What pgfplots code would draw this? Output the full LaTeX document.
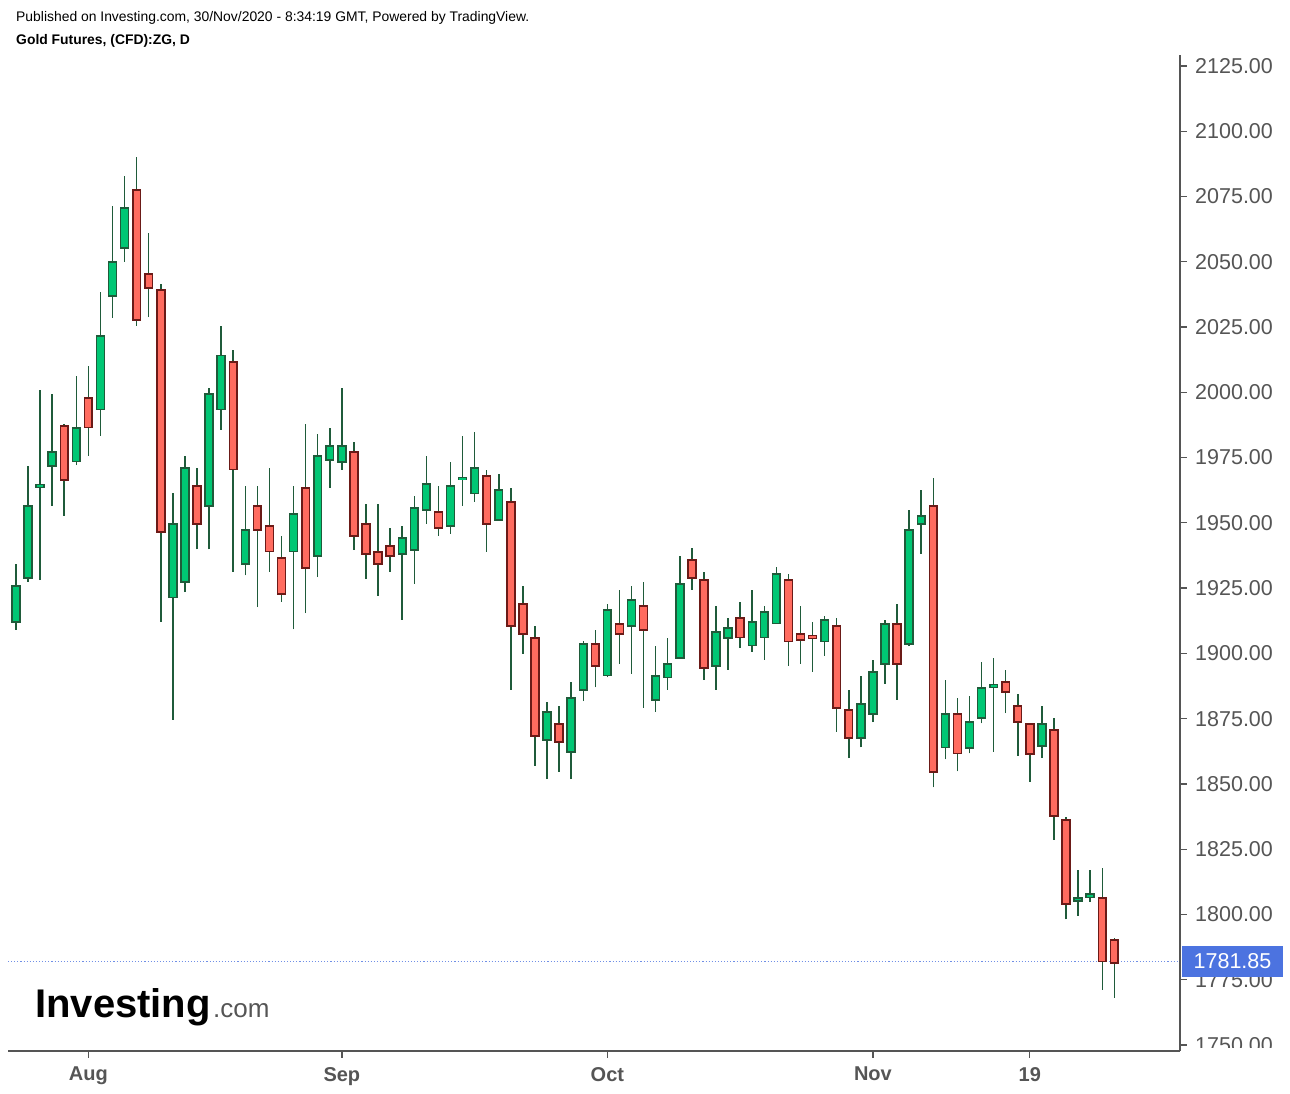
\documentclass[border=0pt]{standalone}
\usepackage{pgfplots}
\pgfplotsset{compat=1.18}
\usepackage{pgfplotstable}
\usepackage{fontspec}
\setmainfont{Liberation Sans}

\definecolor{upfill}{HTML}{00C774}
\definecolor{dnfill}{HTML}{FF6B5F}
\definecolor{upedge}{HTML}{1F5B3A}
\definecolor{dnedge}{HTML}{6B1A17}
\definecolor{axisgray}{HTML}{555555}
\definecolor{lastblue}{HTML}{4C73E0}

% daily candles, x = trading day index (0 = 24 Jul 2020)
\pgfplotstableread{
x  o      h      l      c
0  1912.4 1934.1 1909.0 1925.6
1  1929.2 1971.8 1927.5 1956.2
2  1964.0 2000.9 1928.1 1964.4
3  1972.2 1999.4 1956.6 1976.9
5  1973.8 2006.1 1972.1 1986.1
7  1993.7 2038.3 1983.4 2021.2
8  2037.3 2071.3 2028.6 2049.5
9  2055.7 2082.8 2050.0 2070.3
13 1921.7 1961.6 1874.5 1949.3
14 1927.6 1975.5 1923.5 1970.8
16 1956.8 2001.7 1939.8 1999.1
17 1993.7 2025.4 1985.7 2013.8
19 1934.7 1964.1 1929.9 1947.0
23 1939.3 1964.1 1909.2 1953.1
25 1937.6 1984.0 1929.2 1975.3
26 1974.3 1986.3 1963.5 1979.2
27 1973.7 2001.7 1970.3 1979.2
32 1938.3 1948.8 1912.8 1943.9
33 1939.9 1960.3 1926.7 1955.4
34 1955.2 1975.6 1949.7 1964.6
36 1949.1 1973.3 1945.9 1963.9
37 1966.9 1983.3 1956.6 1967.0
38 1961.6 1984.8 1958.1 1970.8
40 1951.4 1968.7 1951.4 1962.3
44 1867.1 1881.4 1851.8 1877.3
46 1862.5 1889.0 1851.8 1882.7
47 1886.3 1904.9 1881.7 1903.3
49 1891.8 1918.9 1890.8 1916.4
51 1910.8 1925.8 1892.2 1920.2
53 1882.4 1902.8 1877.7 1891.1
54 1891.1 1905.9 1886.1 1895.7
55 1898.5 1937.3 1898.5 1926.3
58 1895.4 1918.2 1886.1 1907.9
59 1906.2 1913.6 1893.8 1909.5
61 1903.3 1924.3 1900.7 1911.8
62 1906.4 1918.2 1897.6 1915.6
63 1911.8 1933.0 1911.8 1930.1
67 1904.9 1914.3 1899.1 1912.5
70 1867.9 1891.3 1864.0 1880.4
71 1877.1 1897.5 1873.7 1892.6
72 1896.2 1912.8 1888.3 1911.0
74 1903.9 1954.9 1902.8 1947.0
75 1949.8 1962.6 1938.1 1952.4
77 1864.3 1889.8 1859.4 1876.5
79 1864.0 1883.7 1861.7 1873.5
80 1875.5 1896.7 1873.2 1886.5
81 1887.5 1898.2 1862.4 1887.8
85 1864.8 1879.9 1860.1 1872.7
88 1805.5 1817.0 1799.5 1806.0
89 1807.0 1817.0 1804.9 1807.5
}\upbars

\pgfplotstableread{
x  o      h      l      c
4  1986.8 1987.8 1952.7 1966.7
6  1997.6 2010.0 1975.7 1986.8
10 2077.3 2090.1 2025.5 2028.0
11 2045.1 2061.2 2028.8 2040.4
12 2038.9 2041.4 1912.1 1946.7
15 1963.8 1970.9 1939.8 1950.0
18 2011.3 2016.2 1931.3 1970.7
20 1956.2 1964.1 1917.7 1947.5
21 1948.5 1971.0 1931.3 1939.3
22 1936.3 1945.0 1919.8 1923.0
24 1963.1 1987.9 1915.4 1933.0
28 1976.9 1980.9 1939.6 1945.4
29 1949.3 1957.2 1928.4 1938.5
30 1938.6 1957.2 1922.1 1934.5
31 1940.9 1948.0 1931.3 1937.6
35 1953.9 1964.1 1945.1 1948.3
39 1967.7 1970.3 1939.0 1949.8
41 1957.7 1963.4 1886.0 1910.8
42 1918.7 1925.8 1899.9 1907.7
43 1905.6 1910.5 1857.0 1868.6
45 1872.7 1879.9 1854.7 1866.3
48 1903.3 1909.0 1887.0 1895.4
50 1911.0 1924.3 1896.1 1907.7
52 1917.9 1927.4 1879.2 1909.2
56 1935.5 1940.4 1924.4 1929.2
57 1927.9 1931.2 1889.9 1894.7
60 1913.3 1919.7 1902.2 1906.4
64 1927.9 1930.4 1895.3 1904.9
65 1907.2 1918.2 1896.1 1905.4
66 1906.5 1912.0 1893.0 1906.2
68 1910.2 1913.6 1869.9 1879.4
69 1878.1 1886.0 1859.9 1867.9
73 1911.0 1918.9 1882.2 1896.2
76 1956.2 1967.2 1848.7 1854.8
78 1876.5 1882.9 1854.8 1862.0
82 1888.8 1893.6 1877.1 1885.5
83 1879.6 1884.5 1860.8 1874.0
84 1872.7 1873.0 1850.9 1861.7
86 1870.4 1875.1 1828.6 1838.0
87 1835.9 1837.5 1798.1 1804.3
90 1806.0 1817.8 1771.2 1782.3
91 1790.0 1790.9 1768.1 1781.85
}\dnbars

\pgfplotsset{
  nomark/.style={only marks, mark=*, mark size=0pt,
    mark options={draw opacity=0, fill opacity=0}, forget plot},
  wick/.style={nomark,
    error bars/.cd, y dir=plus, y explicit, error mark=none,
    error bar style={upedge, line width=1.5pt}},
  body/.style 2 args={nomark,
    error bars/.cd, y dir=both, y explicit, error mark=none,
    error bar style={#1, line width=#2}},
}

\begin{document}
\begin{tikzpicture}
\path[use as bounding box] (0,0) rectangle (1290pt,1094pt);

\node[anchor=base west, inner sep=0pt, font=\fontsize{13.9}{16}\selectfont] at (16pt,1072.5pt)
  {Published on Investing.com, 30/Nov/2020 - 8:34:19 GMT, Powered by TradingView.};
\node[anchor=base west, inner sep=0pt, font=\bfseries\fontsize{13.9}{16}\selectfont] at (16pt,1049.5pt)
  {Gold Futures, (CFD):ZG, D};

\begin{axis}[
  at={(8pt,43pt)}, anchor=south west,
  scale only axis, width=1172pt, height=996pt,
  xmin=-0.66, xmax=96.44, ymin=1747.7, ymax=2129.2,
  axis x line*=bottom, axis y line*=right,
  axis line style={axisgray, line width=1.8pt},
  tick align=outside, major tick length=7pt,
  tick style={axisgray, line width=1.3pt},
  xtick={6,27,49,71,84}, xticklabels={Aug,Sep,Oct,Nov,19},
  ytick={1750,1775,...,2125},
  yticklabel={\pgfmathprintnumber[fixed,fixed zerofill,precision=2,1000 sep={},assume math mode=true]{\tick}},
  yticklabel style={font=\fontsize{21.5}{24}\selectfont, text=axisgray, anchor=west, inner sep=0pt, xshift=8pt},
  xticklabel style={font=\bfseries\fontsize{20}{22}\selectfont, text=axisgray, anchor=north, inner sep=0pt, yshift=-9pt},
]
% last price line
\addplot[lastblue!80, dotted, line width=1.1pt, forget plot]
  coordinates {(-0.66,1781.85) (96.44,1781.85)};

% wicks
\addplot[wick] table[x=x, y=l, y error plus expr=\thisrow{h}-\thisrow{l}] {\upbars};
\addplot[wick] table[x=x, y=l, y error plus expr=\thisrow{h}-\thisrow{l}] {\dnbars};

% bodies: dark outline first, then the fill
\addplot[body={upedge}{9.4pt}] table[x=x, y expr=(\thisrow{o}+\thisrow{c})/2,
  y error expr=abs(\thisrow{c}-\thisrow{o})/2+0.65] {\upbars};
\addplot[body={upfill}{6.2pt}] table[x=x, y expr=(\thisrow{o}+\thisrow{c})/2,
  y error expr=abs(\thisrow{c}-\thisrow{o})/2] {\upbars};
\addplot[body={dnedge}{9.4pt}] table[x=x, y expr=(\thisrow{o}+\thisrow{c})/2,
  y error expr=abs(\thisrow{c}-\thisrow{o})/2+0.65] {\dnbars};
\addplot[body={dnfill}{6.2pt}] table[x=x, y expr=(\thisrow{o}+\thisrow{c})/2,
  y error expr=abs(\thisrow{c}-\thisrow{o})/2] {\dnbars};
\end{axis}

% cut the lowest price label at the axis bottom
\fill[white] (1190pt,0) rectangle (1290pt,46pt);

% last price tag (covers the 1775.00 label, as in the original)
\node[fill=lastblue, text=white, minimum width=101pt, minimum height=31pt, inner sep=0pt,
  font=\fontsize{21.5}{24}\selectfont] at (1232.5pt,132.5pt) {1781.85};

% logo
\node[anchor=base west, inner sep=0pt, font=\bfseries\fontsize{40}{44}\selectfont] at (35pt,76pt) {Investing};
\node[anchor=base west, inner sep=0pt, text=axisgray, font=\fontsize{26}{30}\selectfont] at (213pt,76pt) {.com};
\end{tikzpicture}
\end{document}
